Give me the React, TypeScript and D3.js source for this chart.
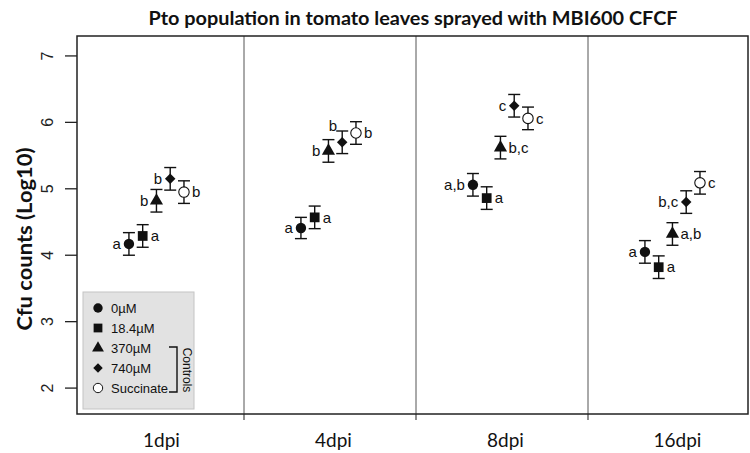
import React from 'react';
import * as d3 from 'd3';

const days = ['1dpi', '4dpi', '8dpi', '16dpi'];
const treatments = ['0µM', '18.4µM', '370µM', '740µM', 'Succinate'];

// mean log10 cfu per day, one entry per treatment
const means = [
  [4.17, 4.29, 4.82, 5.15, 4.95],
  [4.41, 4.57, 5.57, 5.70, 5.84],
  [5.06, 4.86, 5.62, 6.25, 6.06],
  [4.05, 3.82, 4.32, 4.80, 5.09],
];
const errors = [
  [0.17, 0.17, 0.17, 0.17, 0.17],
  [0.16, 0.17, 0.17, 0.17, 0.17],
  [0.17, 0.17, 0.17, 0.17, 0.17],
  [0.17, 0.17, 0.17, 0.17, 0.17],
];
const letters = [
  ['a', 'a', 'b', 'b', 'b'],
  ['a', 'a', 'b', 'b', 'b'],
  ['a,b', 'a', 'b,c', 'c', 'c'],
  ['a', 'a', 'a,b', 'b,c', 'c'],
];
const letterSide = [
  ['l', 'r', 'l', 'l', 'r'],
  ['l', 'r', 'l', 'tl', 'r'],
  ['l', 'r', 'r', 'l', 'r'],
  ['l', 'r', 'r', 'l', 'r'],
];
const yTicks = [2, 3, 4, 5, 6, 7];

const W = 750;
const H = 453;
const plot = { left: 77, right: 748, top: 36, bottom: 414 };

const x = d3.scaleLinear().domain([0, 4]).range([72, 760]);
const y = d3.scaleLinear().domain([1.61, 7.3]).range([plot.bottom, plot.top]);
const inner = d3.scalePoint<string>().domain(treatments).range([0.331, 0.651]);

const symCircle = d3.symbol().type(d3.symbolCircle).size(85)()!;
const symSquare = d3.symbol().type(d3.symbolSquare).size(95)()!;
const symTriangle = d3.symbol().type(d3.symbolTriangle).size(75)()!;
const symDiamond = d3.symbol().type(d3.symbolSquare).size(55)()!;

const Marker: React.FC<{ t: number; cx: number; cy: number; scale?: number }> = ({ t, cx, cy, scale = 1 }) => {
  const tr = `translate(${cx},${cy}) scale(${scale})`;
  if (t === 0) return <path d={symCircle} transform={tr} fill="#111" />;
  if (t === 1) return <path d={symSquare} transform={tr} fill="#111" />;
  if (t === 2) return <path d={symTriangle} transform={tr} fill="#111" />;
  if (t === 3) return <path d={symDiamond} transform={`${tr} rotate(45)`} fill="#111" />;
  return <path d={symCircle} transform={tr} fill="#fff" stroke="#111" strokeWidth={1.1} />;
};

export default function App() {
  const font = 'Arial, "Liberation Sans", sans-serif';
  const cal = 'Lato, "Open Sans", sans-serif';
  return (
    <svg width={W} height={H} style={{ position: 'absolute', left: 0, top: 0, background: '#fff' }}>
      <text x={413} y={25} textAnchor="middle" fontFamily={cal} fontWeight="bold" fontSize={19} fill="#111"
        textLength={529} lengthAdjust="spacingAndGlyphs">
        Pto population in tomato leaves sprayed with MBI600 CFCF
      </text>

      {/* y axis */}
      {yTicks.map(t => (
        <g key={t}>
          <line x1={65} x2={plot.left} y1={y(t)} y2={y(t)} stroke="#222" strokeWidth={1.3} />
          <text transform={`translate(53,${y(t)}) rotate(-90)`} textAnchor="middle" fontFamily={font} fontSize={16} fill="#222">
            {t}
          </text>
        </g>
      ))}
      <text transform="translate(32,239) rotate(-90)" textAnchor="middle"
        fontFamily={cal} fontWeight="bold" fontSize={20} fill="#111" textLength={183} lengthAdjust="spacingAndGlyphs">
        Cfu counts (Log10)
      </text>

      {/* panel dividers and x ticks */}
      {[1, 2, 3].map(i => (
        <g key={i}>
          <line x1={x(i)} x2={x(i)} y1={plot.top} y2={plot.bottom} stroke="#555" strokeWidth={1} />
          <line x1={x(i)} x2={x(i)} y1={plot.bottom} y2={plot.bottom + 6} stroke="#444" strokeWidth={1.2} />
        </g>
      ))}
      {days.map((d, i) => (
        <text key={d} x={x(i + 0.52)} y={447} textAnchor="middle" fontFamily={cal} fontSize={19} fill="#111">
          {d}
        </text>
      ))}

      {/* data */}
      {means.map((row, i) =>
        row.map((m, j) => {
          const cx = x(i + inner(treatments[j])!);
          const cy = y(m);
          const e = errors[i][j];
          const side = letterSide[i][j];
          const lx = side === 'r' ? cx + 8 : cx - 8;
          const ly = side === 'tl' ? cy - 17 : cy;
          return (
            <g key={`${i}-${j}`}>
              <line x1={cx} x2={cx} y1={y(m - e)} y2={y(m + e)} stroke="#111" strokeWidth={1.4} />
              <line x1={cx - 6} x2={cx + 6} y1={y(m - e)} y2={y(m - e)} stroke="#111" strokeWidth={1.4} />
              <line x1={cx - 6} x2={cx + 6} y1={y(m + e)} y2={y(m + e)} stroke="#111" strokeWidth={1.4} />
              <Marker t={j} cx={cx} cy={cy} />
              <text x={lx + (side === 'tl' ? 3 : 0)} y={ly} dy="0.35em" textAnchor={side === 'r' ? 'start' : 'end'}
                fontFamily={font} fontSize={15} fill="#111">
                {letters[i][j]}
              </text>
            </g>
          );
        })
      )}

      {/* legend */}
      <rect x={83} y={292} width={111} height={117} fill="#e2e2e2" stroke="#c4c4c4" strokeWidth={1} />
      {treatments.map((t, j) => (
        <g key={t}>
          <Marker t={j} cx={98} cy={308 + j * 20} scale={0.9} />
          <text x={111} y={308 + j * 20} dy="0.35em" fontFamily={font} fontSize={13} fill="#111">{t}</text>
        </g>
      ))}
      <path d="M169,347H177V392H169" fill="none" stroke="#111" strokeWidth={1.4} />
      <text transform="translate(183,370) rotate(90)" textAnchor="middle" fontFamily={font} fontSize={12} fill="#111">
        Controls
      </text>

      {/* frame */}
      <rect x={plot.left} y={plot.top} width={plot.right - plot.left} height={plot.bottom - plot.top}
        fill="none" stroke="#222" strokeWidth={1.5} />
    </svg>
  );
}
